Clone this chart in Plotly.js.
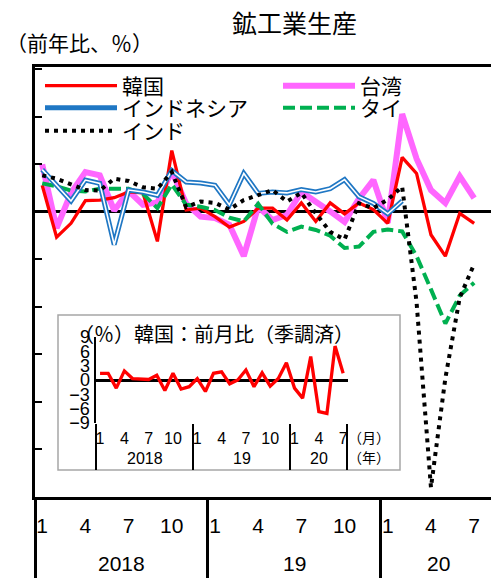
<!DOCTYPE html>
<html>
<head>
<meta charset="utf-8">
<script src="https://cdn.plot.ly/plotly-3.0.1.min.js"></script>
<style>
html,body{margin:0;padding:0;background:#fff;}
:root, body, svg, svg text, svg tspan {
  text-spacing-trim: space-all !important;
  font-feature-settings: "halt" 0, "chws" 0, "palt" 0 !important;
}
g.annotation[data-index="1"] text, g.annotation[data-index="2"] text,
g.annotation[data-index="3"] text, g.annotation[data-index="4"] text {
  font-variant-east-asian: full-width;
}
</style>
</head>
<body>
<div id="chart" style="width:491px;height:579px;"></div>
<script>
// ---- data (year-on-year %, Jan 2018 .. Jul 2020) ----
const monthLabels = ['1','2','3','4','5','6','7','8','9','10','11','12',
                     '1','2','3','4','5','6','7','8','9','10','11','12',
                     '1','2','3','4','5','6','7'];
const tickMonths = ['1','4','7','10'];
const yearLabels = ['2018','19','20'];
const yearStartIdx = [0, 12, 24];

const korea = [5.6,-5.3,-2.4,2.4,2.5,3.0,4.2,4.0,-6.2,12.9,
               0.4,0.8,-1.0,-3.2,-2.0,0.8,0.8,-1.7,1.9,-2.0,
               1.9,-0.4,1.9,0.5,-2.4,11.5,8.1,-4.8,-9.3,-0.3,-2.4];
const taiwan = [10.0,-3.4,4.0,8.4,7.7,0.3,4.4,1.5,2.0,8.6,
                1.8,-1.0,-1.3,-2.7,-9.3,1.1,-1.7,-0.6,4.2,2.3,
                0.1,-2.1,2.8,6.7,-2.3,20.6,11.2,4.6,1.9,7.5,2.9];
const indonesia = [8.9,5.5,2.3,6.7,6.0,-6.9,4.6,4.2,3.5,8.7,
                   6.3,6.1,5.6,1.5,8.1,3.9,4.2,4.0,4.7,4.2,
                   4.9,6.8,3.2,1.8,-0.4,2.3];
const thai = [6.0,5.4,4.5,4.3,4.9,4.9,4.9,3.8,0.8,5.8,
              1.5,1.1,0.4,-1.2,-2.0,1.7,-2.5,-4.2,-3.1,-3.8,
              -5.0,-7.6,-7.3,-4.2,-3.7,-4.1,-9.3,-16.3,-23.5,-17.6,-14.9];
const india = [7.7,7.0,5.8,4.6,4.5,7.0,6.5,5.2,4.9,8.4,
               1.0,2.2,1.9,0.5,2.5,3.6,4.6,2.2,4.0,-0.3,
               -4.2,-5.8,1.8,0.8,2.6,5.3,-19.0,-58.0,-35.0,-18.0,-11.0];
// inset: Korea month-on-month (seasonally adjusted, %)
const koreaMoM = [1.4,1.4,-1.7,1.9,0.3,0.2,0.1,1.0,-2.2,1.4,
                  -1.9,-1.4,0.3,-2.4,1.4,1.7,-0.8,0.0,2.1,-1.4,
                  1.5,-1.3,0.3,3.6,-1.7,-3.8,4.9,-6.6,-7.0,7.1,1.4];
const insetTicks = [-9,-6,-3,0,3,6,9];

// ---- derived positions (indices along the month axis) ----
const idx = monthLabels.map((m, i) => i);
const nM = monthLabels.length;
const tickIdx = idx.filter(i => tickMonths.includes(monthLabels[i]));
const tickTxt = tickIdx.map(i => monthLabels[i]);
const sepIdx = yearStartIdx.map(i => i - 0.5);
const yearMid = yearStartIdx.map((s, k) => {
  const e = k + 1 < yearStartIdx.length ? yearStartIdx[k + 1] : nM + 1;
  return (s + e - 1) / 2;
});
const insetYearMid = yearStartIdx.map((s, k) => {
  const e = k + 1 < yearStartIdx.length ? yearStartIdx[k + 1] : nM;
  return (s + e - 1) / 2;
});

const FONT = 'Liberation Sans, Noto Sans CJK JP, sans-serif';
const JFONT = 'Noto Sans CJK JP, sans-serif';

const traces = [
  {x: idx, y: taiwan, name: '台湾', type: 'scatter', mode: 'lines',
   line: {color: '#FF66FF', width: 6}, legend: 'legend4'},
  {x: idx, y: korea, name: '韓国', type: 'scatter', mode: 'lines',
   line: {color: '#FF0000', width: 3.3}, legend: 'legend'},
  {x: idx, y: thai, name: 'タイ', type: 'scatter', mode: 'lines',
   line: {color: '#00B050', width: 4, dash: '12px,5px'}, legend: 'legend5'},
  {x: idx.slice(0, indonesia.length), y: indonesia, name: 'インドネシア', type: 'scatter', mode: 'lines',
   line: {color: '#1F77C4', width: 5}, legend: 'legend2'},
  {x: idx.slice(0, indonesia.length), y: indonesia, name: 'インドネシア', type: 'scatter', mode: 'lines',
   line: {color: '#FFFFFF', width: 1.6}, showlegend: false, hoverinfo: 'skip'},
  {x: idx, y: india, name: 'インド', type: 'scatter', mode: 'lines',
   line: {color: '#000000', width: 4, dash: '4px,5px'}, legend: 'legend3'},
  // separator axis holder
  {x: [], y: [], xaxis: 'x2', yaxis: 'y', showlegend: false},
  // inset
  {x: idx, y: koreaMoM, xaxis: 'x3', yaxis: 'y3', type: 'scatter', mode: 'lines',
   line: {color: '#FF0000', width: 3.3}, showlegend: false},
  {x: [], y: [], xaxis: 'x4', yaxis: 'y3', showlegend: false}
];

const PH = 430, PW = 456, PL = 35, PT = 67;
const py = y => (PT + PH - y) / PH;   // pixel -> paper y
const px = x => (x - PL) / PW;        // pixel -> paper x

const annotations = [
  {text: '鉱工業生産', xref: 'paper', yref: 'paper', x: px(294), y: py(22), xanchor: 'center', yanchor: 'middle',
   showarrow: false, font: {family: JFONT, size: 25, color: '#000'}},
  {text: '（前年比、％）', xref: 'paper', yref: 'paper', x: px(4), y: py(42), xanchor: 'left', yanchor: 'middle',
   showarrow: false, font: {family: JFONT, size: 21, color: '#000'}},
  {text: '（％）韓国：前月比（季調済）', xref: 'paper', yref: 'paper', x: px(72), y: py(333), xanchor: 'left', yanchor: 'middle',
   showarrow: false, font: {family: JFONT, size: 20, color: '#000'}},
  {text: '（月）', xref: 'paper', yref: 'paper', x: px(346), y: py(437), xanchor: 'left', yanchor: 'middle',
   showarrow: false, font: {family: JFONT, size: 14, color: '#000'}},
  {text: '（年）', xref: 'paper', yref: 'paper', x: px(346), y: py(457), xanchor: 'left', yanchor: 'middle',
   showarrow: false, font: {family: JFONT, size: 14, color: '#000'}}
];
yearLabels.forEach((t, k) => {
  annotations.push({text: t, xref: 'x', yref: 'paper', x: yearMid[k], y: py(563), xanchor: 'center', yanchor: 'middle',
    showarrow: false, font: {family: FONT, size: 21, color: '#000'}});
  annotations.push({text: t, xref: 'x3', yref: 'paper', x: insetYearMid[k], y: py(458), xanchor: 'center', yanchor: 'middle',
    showarrow: false, font: {family: FONT, size: 16, color: '#000'}});
});

function leg(xPix, yPix) {
  return {x: px(xPix), y: py(yPix), xanchor: 'left', yanchor: 'middle', orientation: 'v', itemwidth: 72,
    bgcolor: 'rgba(0,0,0,0)', borderwidth: 0, font: {family: JFONT, size: 21, color: '#000'}};
}

const layout = {
  width: 491, height: 579,
  margin: {l: PL, r: 0, t: PT, b: 82, pad: 0},
  paper_bgcolor: '#fff', plot_bgcolor: '#fff',
  font: {family: FONT, color: '#000'},
  showlegend: true,
  legend: leg(40, 86),
  legend2: leg(40, 108),
  legend3: leg(40, 131),
  legend4: leg(278, 86),
  legend5: leg(278, 108),
  xaxis: {domain: [0, 1], range: [-0.5, 31.17], tickmode: 'array', tickvals: tickIdx, ticktext: tickTxt,
    ticks: '', ticklabelstandoff: 8, showgrid: false, zeroline: false,
    showline: true, linewidth: 3, linecolor: '#000', mirror: true,
    tickfont: {family: FONT, size: 21, color: '#000'}},
  xaxis2: {overlaying: 'x', anchor: 'y', side: 'bottom', range: [-0.5, 31.17], tickmode: 'array', tickvals: sepIdx,
    ticks: 'outside', ticklen: 80, tickwidth: 3, tickcolor: '#000', showticklabels: false,
    showgrid: false, zeroline: false, showline: false},
  yaxis: {domain: [0, 1], range: [-60, 30.5], dtick: 10, tick0: 0, ticks: 'inside', ticklen: 7, tickwidth: 2,
    tickcolor: '#000', showticklabels: false, showgrid: false,
    zeroline: true, zerolinewidth: 3, zerolinecolor: '#000',
    showline: true, linewidth: 3, linecolor: '#000'},
  xaxis3: {domain: [px(96), px(348)], anchor: 'y3', range: [-0.5, 30.6], tickmode: 'array',
    tickvals: tickIdx, ticktext: tickTxt, ticks: '', ticklabelstandoff: 4, showgrid: false, zeroline: false,
    showline: false, tickfont: {family: FONT, size: 16, color: '#000'}},
  xaxis4: {overlaying: 'x3', anchor: 'y3', side: 'bottom', range: [-0.5, 30.6], tickmode: 'array',
    tickvals: sepIdx.concat([nM - 0.5]), ticks: 'outside', ticklen: 46, tickwidth: 2,
    tickcolor: '#000', showticklabels: false, showgrid: false, zeroline: false, showline: false},
  yaxis3: {domain: [py(423), py(337)], anchor: 'x3', range: [-9, 9], tickmode: 'array', tickvals: insetTicks,
    ticks: '', ticklabelstandoff: 0, showgrid: false, zeroline: true, zerolinewidth: 3, zerolinecolor: '#000',
    showline: true, linewidth: 2.5, linecolor: '#000', tickfont: {family: FONT, size: 18, color: '#000'}},
  shapes: [
    {type: 'rect', xref: 'paper', yref: 'paper', x0: px(58), x1: px(400), y0: py(470), y1: py(315),
     line: {color: '#A6A6A6', width: 1.5}, fillcolor: '#FFFFFF', layer: 'below'}
  ],
  annotations: annotations
};

Plotly.newPlot('chart', traces, layout, {displayModeBar: false, staticPlot: true});
</script>
</body>
</html>
